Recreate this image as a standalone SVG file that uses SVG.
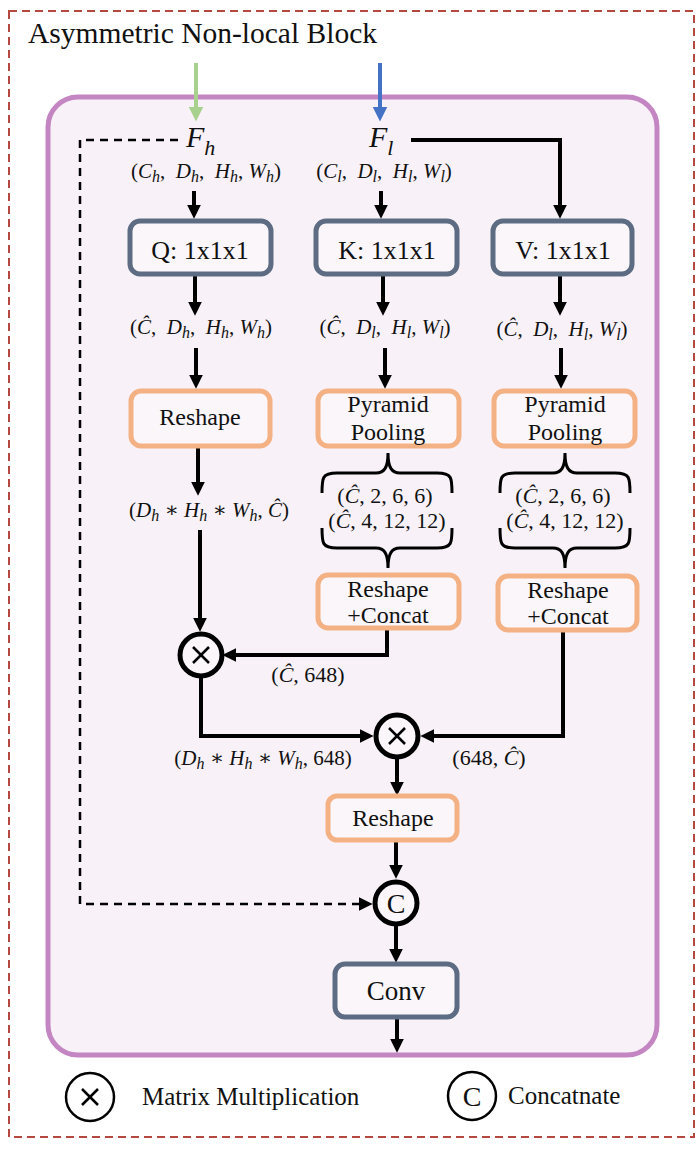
<svg xmlns="http://www.w3.org/2000/svg" width="700" height="1149" viewBox="0 0 700 1149">
<style>
.t{font-family:"Liberation Serif","Times New Roman",serif;fill:#111}
.m{font-family:"Liberation Serif","DejaVu Serif",serif;font-size:21px;fill:#111}
.mb{font-size:22px}
.i{font-style:italic}
.s{font-style:italic;font-size:16px}
.gb{fill:#faf6fa;stroke:#5d6c82;stroke-width:5}
.ob{fill:#faf6fa;stroke:#f4b183;stroke-width:5}
.ln{fill:none;stroke:#000;stroke-width:4}
.dl{fill:none;stroke:#000;stroke-width:2.5;stroke-dasharray:8 6}
.cir{fill:#faf6fa;stroke:#000;stroke-width:5}
.x{stroke:#000;stroke-width:2.5}
.br{fill:none;stroke:#000;stroke-width:3}
</style>
<defs>
<marker id="a" viewBox="0 0 12 12" markerUnits="userSpaceOnUse" markerWidth="14" markerHeight="14" refX="2" refY="6" orient="auto"><path d="M0,0 L12,6 L0,12 z" fill="#000"/></marker>
<marker id="ag" viewBox="0 0 12 12" markerUnits="userSpaceOnUse" markerWidth="15" markerHeight="15" refX="2" refY="6" orient="auto"><path d="M0,0 L12,6 L0,12 z" fill="#a9d18e"/></marker>
<marker id="ab" viewBox="0 0 12 12" markerUnits="userSpaceOnUse" markerWidth="15" markerHeight="15" refX="2" refY="6" orient="auto"><path d="M0,0 L12,6 L0,12 z" fill="#4472c4"/></marker>
</defs>

<rect x="9" y="11" width="685" height="1126" fill="#fff" stroke="#b5483f" stroke-width="2" stroke-dasharray="8 5"/>
<text class="t" x="28" y="43" font-size="29.5">Asymmetric Non-local Block</text>

<g id="block">
<rect x="48" y="97" width="609" height="958" rx="30" fill="#f8f2f8" stroke="#c386c3" stroke-width="5"/>
</g>

<g id="connectors">
<line x1="196" y1="63" x2="196" y2="109" stroke="#a9d18e" stroke-width="4" marker-end="url(#ag)"/>
<line x1="380" y1="63" x2="380" y2="109" stroke="#4472c4" stroke-width="4" marker-end="url(#ab)"/>
<polyline class="dl" points="178,140 80,140 80,904 361,904" marker-end="url(#a)"/>
<polyline class="ln" points="411,140 560,140 560,207" marker-end="url(#a)"/>
<line class="ln" x1="194" y1="191" x2="194" y2="207" marker-end="url(#a)"/>
<line class="ln" x1="381" y1="191" x2="381" y2="207" marker-end="url(#a)"/>
<line class="ln" x1="195" y1="274" x2="195" y2="304" marker-end="url(#a)"/>
<line class="ln" x1="383" y1="274" x2="383" y2="304" marker-end="url(#a)"/>
<line class="ln" x1="560" y1="274" x2="560" y2="304" marker-end="url(#a)"/>
<line class="ln" x1="196" y1="348" x2="196" y2="377" marker-end="url(#a)"/>
<line class="ln" x1="385" y1="348" x2="385" y2="377" marker-end="url(#a)"/>
<line class="ln" x1="561" y1="348" x2="561" y2="377" marker-end="url(#a)"/>
<line class="ln" x1="198" y1="448" x2="198" y2="484" marker-end="url(#a)"/>
<line class="ln" x1="200" y1="530" x2="200" y2="620" marker-end="url(#a)"/>
<polyline class="ln" points="387,628 387,655 234,655" marker-end="url(#a)"/>
<polyline class="ln" points="201,677 201,736 362,736" marker-end="url(#a)"/>
<polyline class="ln" points="563,630 563,736 432,736" marker-end="url(#a)"/>
<line class="ln" x1="397" y1="758" x2="397" y2="784" marker-end="url(#a)"/>
<line class="ln" x1="396" y1="840" x2="396" y2="867" marker-end="url(#a)"/>
<line class="ln" x1="396" y1="926" x2="396" y2="951" marker-end="url(#a)"/>
<line class="ln" x1="397" y1="1017" x2="397" y2="1041" marker-end="url(#a)"/>
</g>

<g id="Fh"><text class="t i" x="186" y="147" font-size="30">F<tspan font-size="22" dy="8">h</tspan></text></g>
<g id="Fl"><text class="t i" x="369" y="147" font-size="30">F<tspan font-size="22" dy="8">l</tspan></text></g>

<g id="labels">
<text class="m" x="206" y="178" text-anchor="middle" xml:space="preserve">(<tspan class="i">C</tspan><tspan class="s" dy="4">h</tspan><tspan dy="-4">,  </tspan><tspan class="i">D</tspan><tspan class="s" dy="4">h</tspan><tspan dy="-4">,  </tspan><tspan class="i">H</tspan><tspan class="s" dy="4">h</tspan><tspan dy="-4">, </tspan><tspan class="i">W</tspan><tspan class="s" dy="4">h</tspan><tspan dy="-4">)</tspan></text>
<text class="m" x="384" y="178" text-anchor="middle" xml:space="preserve">(<tspan class="i">C</tspan><tspan class="s" dy="4">l</tspan><tspan dy="-4">,  </tspan><tspan class="i">D</tspan><tspan class="s" dy="4">l</tspan><tspan dy="-4">,  </tspan><tspan class="i">H</tspan><tspan class="s" dy="4">l</tspan><tspan dy="-4">, </tspan><tspan class="i">W</tspan><tspan class="s" dy="4">l</tspan><tspan dy="-4">)</tspan></text>
<text class="m" x="201" y="334" text-anchor="middle" xml:space="preserve">(<tspan class="i">Ĉ</tspan>,  <tspan class="i">D</tspan><tspan class="s" dy="4">h</tspan><tspan dy="-4">,  </tspan><tspan class="i">H</tspan><tspan class="s" dy="4">h</tspan><tspan dy="-4">, </tspan><tspan class="i">W</tspan><tspan class="s" dy="4">h</tspan><tspan dy="-4">)</tspan></text>
<text class="m" x="385" y="334" text-anchor="middle" xml:space="preserve">(<tspan class="i">Ĉ</tspan>,  <tspan class="i">D</tspan><tspan class="s" dy="4">l</tspan><tspan dy="-4">,  </tspan><tspan class="i">H</tspan><tspan class="s" dy="4">l</tspan><tspan dy="-4">, </tspan><tspan class="i">W</tspan><tspan class="s" dy="4">l</tspan><tspan dy="-4">)</tspan></text>
<text class="m" x="562" y="336" text-anchor="middle" xml:space="preserve">(<tspan class="i">Ĉ</tspan>,  <tspan class="i">D</tspan><tspan class="s" dy="4">l</tspan><tspan dy="-4">,  </tspan><tspan class="i">H</tspan><tspan class="s" dy="4">l</tspan><tspan dy="-4">, </tspan><tspan class="i">W</tspan><tspan class="s" dy="4">l</tspan><tspan dy="-4">)</tspan></text>
<text class="m" x="209" y="517" text-anchor="middle" xml:space="preserve">(<tspan class="i">D</tspan><tspan class="s" dy="4">h</tspan><tspan dy="-4"> ∗ </tspan><tspan class="i">H</tspan><tspan class="s" dy="4">h</tspan><tspan dy="-4"> ∗ </tspan><tspan class="i">W</tspan><tspan class="s" dy="4">h</tspan><tspan dy="-4">, </tspan><tspan class="i">Ĉ</tspan>)</text>
<text class="m mb" x="385" y="503" text-anchor="middle">(<tspan class="i">Ĉ</tspan>, 2, 6, 6)</text>
<text class="m mb" x="387" y="528" text-anchor="middle">(<tspan class="i">Ĉ</tspan>, 4, 12, 12)</text>
<text class="m mb" x="563" y="503" text-anchor="middle">(<tspan class="i">Ĉ</tspan>, 2, 6, 6)</text>
<text class="m mb" x="565" y="528" text-anchor="middle">(<tspan class="i">Ĉ</tspan>, 4, 12, 12)</text>
<text class="m mb" x="308" y="682" text-anchor="middle">(<tspan class="i">Ĉ</tspan>, 648)</text>
<text class="m" x="263" y="765" text-anchor="middle" xml:space="preserve">(<tspan class="i">D</tspan><tspan class="s" dy="4">h</tspan><tspan dy="-4"> ∗ </tspan><tspan class="i">H</tspan><tspan class="s" dy="4">h</tspan><tspan dy="-4"> ∗ </tspan><tspan class="i">W</tspan><tspan class="s" dy="4">h</tspan><tspan dy="-4">, 648)</tspan></text>
<text class="m mb" x="489" y="765" text-anchor="middle">(648, <tspan class="i">Ĉ</tspan>)</text>
</g>

<g id="braces">
<path class="br" d="M322,493 C322,478 322,473 337,473 L376,473 C384,473 388,468 388,453 C388,468 392,473 400,473 L437,473 C452,473 452,478 452,493"/>
<path class="br" d="M322,528 C322,543 322,548 337,548 L376,548 C384,548 388,553 388,568 C388,553 392,548 400,548 L437,548 C452,548 452,543 452,528"/>
<path class="br" d="M500,493 C500,478 500,473 515,473 L553,473 C561,473 565,468 565,453 C565,468 569,473 577,473 L615,473 C630,473 630,478 630,493"/>
<path class="br" d="M500,528 C500,543 500,548 515,548 L553,548 C561,548 565,553 565,568 C565,553 569,548 577,548 L615,548 C630,548 630,543 630,528"/>
</g>

<g id="Q"><rect class="gb" x="130" y="221" width="141" height="53" rx="10"/><text class="t" x="200" y="259" font-size="26" text-anchor="middle">Q: 1x1x1</text></g>
<g id="K"><rect class="gb" x="316" y="221" width="141" height="53" rx="10"/><text class="t" x="387" y="259" font-size="26" text-anchor="middle">K: 1x1x1</text></g>
<g id="V"><rect class="gb" x="493" y="221" width="139" height="53" rx="10"/><text class="t" x="563" y="259" font-size="26" text-anchor="middle">V: 1x1x1</text></g>

<g id="reshapeQ"><rect class="ob" x="131" y="391" width="139" height="55" rx="10"/><text class="t" x="200" y="425" font-size="24" text-anchor="middle">Reshape</text></g>
<g id="poolK"><rect class="ob" x="318" y="391" width="141" height="55" rx="10"/><text class="t" x="388" y="412" font-size="24" text-anchor="middle">Pyramid</text><text class="t" x="388" y="440" font-size="24" text-anchor="middle">Pooling</text></g>
<g id="poolV"><rect class="ob" x="494" y="391" width="141" height="55" rx="10"/><text class="t" x="565" y="412" font-size="24" text-anchor="middle">Pyramid</text><text class="t" x="565" y="440" font-size="24" text-anchor="middle">Pooling</text></g>

<g id="rcK"><rect class="ob" x="318" y="575" width="141" height="53" rx="10"/><text class="t" x="388" y="597" font-size="24" text-anchor="middle">Reshape</text><text class="t" x="388" y="623" font-size="24" text-anchor="middle">+Concat</text></g>
<g id="rcV"><rect class="ob" x="498" y="576" width="139" height="54" rx="10"/><text class="t" x="568" y="598" font-size="24" text-anchor="middle">Reshape</text><text class="t" x="568" y="624" font-size="24" text-anchor="middle">+Concat</text></g>

<g id="mul1"><circle class="cir" cx="201" cy="655" r="21"/><line class="x" x1="193" y1="647" x2="209" y2="663"/><line class="x" x1="209" y1="647" x2="193" y2="663"/></g>
<g id="mul2"><circle class="cir" cx="397" cy="736" r="21"/><line class="x" x1="389" y1="728" x2="405" y2="744"/><line class="x" x1="405" y1="728" x2="389" y2="744"/></g>

<g id="reshapeOut"><rect class="ob" x="328" y="796" width="129" height="44" rx="9"/><text class="t" x="393" y="826" font-size="24" text-anchor="middle">Reshape</text></g>
<g id="concat"><circle class="cir" cx="396" cy="903" r="21"/><text class="t" x="396" y="913" font-size="28" text-anchor="middle">C</text></g>
<g id="conv"><rect class="gb" x="335" y="964" width="122" height="53" rx="10"/><text class="t" x="396" y="1000" font-size="27" text-anchor="middle">Conv</text></g>

<g id="legend">
<circle cx="90" cy="1097" r="24" fill="none" stroke="#000" stroke-width="2.5"/>
<line class="x" x1="82" y1="1089" x2="98" y2="1105" stroke-width="2"/><line class="x" x1="98" y1="1089" x2="82" y2="1105" stroke-width="2"/>
<text class="t" x="142" y="1105" font-size="25">Matrix Multiplication</text>
<circle cx="472" cy="1096" r="24" fill="none" stroke="#000" stroke-width="2.5"/>
<text class="t" x="472" y="1106" font-size="28" text-anchor="middle">C</text>
<text class="t" x="508" y="1104" font-size="25">Concatnate</text>
</g>
</svg>
